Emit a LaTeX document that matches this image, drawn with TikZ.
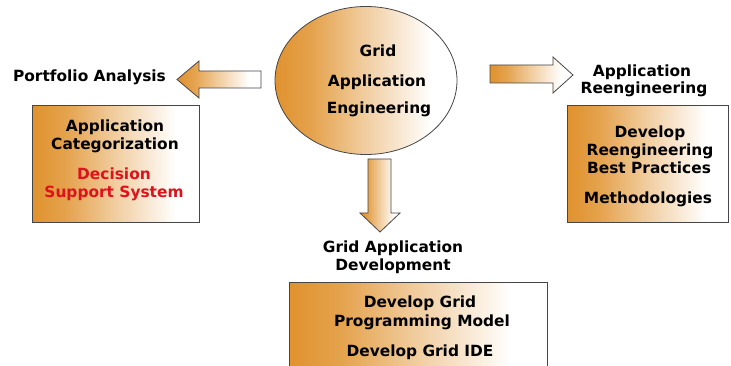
\documentclass[tikz,border=0pt]{standalone}
\usepackage{fontspec}
\setmainfont{DejaVu Sans}
\usetikzlibrary{shapes.geometric}
\definecolor{orng}{RGB}{224,146,46}
\definecolor{edge}{RGB}{70,70,70}
\definecolor{redtxt}{RGB}{222,18,28}
\pgfdeclarehorizontalshading{orfade}{100bp}{color(0bp)=(orng); color(25bp)=(orng); color(35bp)=(orng!85!white); color(50bp)=(orng!45!white); color(68bp)=(white); color(100bp)=(white)}
\begin{document}
\begin{tikzpicture}[x=1pt,y=-1pt,
  lbl/.style={font=\fontsize{15.4}{18}\selectfont\bfseries, anchor=base, inner sep=0pt},
  redlbl/.style={lbl, text=redtxt},
  blk/.style={draw=edge, line width=0.8pt, shade, shading=orfade},
  boxnode/.style={blk, rectangle, anchor=north west, inner sep=0pt}]
\clip (0,0) rectangle (731,366);
\fill[white] (0,0) rectangle (731,366);
% main shapes
\node[blk, ellipse, minimum width=182pt, minimum height=148pt, inner sep=0pt] (gae) at (366,80.5) {};
\node[boxnode, minimum width=167pt, minimum height=117pt] (lbox) at (32,105) {};
\node[boxnode, minimum width=161pt, minimum height=117pt] (rbox) at (567,105) {};
\node[boxnode, minimum width=258pt, minimum height=100pt] (bbox) at (289,282) {};
% block arrows
\draw[blk] (261,71) -- (199,71) -- (199,61) -- (177,79.5) -- (199,98) -- (199,88) -- (261,88) -- cycle;
\draw[blk] (490,65) -- (553,65) -- (553,57) -- (573,75) -- (553,93) -- (553,83) -- (490,83) -- cycle;
\draw[blk] (368,159) -- (391,159) -- (391,213) -- (400,213) -- (380,232) -- (360,213) -- (368,213) -- cycle;
% ellipse text
\node[lbl] (e1) at (378,57) {Grid};
\node[lbl] (e2) at (377,87) {Application};
\node[lbl] (e3) at (379,114) {Engineering};
% left
\node[lbl] (pa) at (89.5,82) {Portfolio Analysis};
\node[lbl] (la1) at (115,132) {Application};
\node[lbl] (la2) at (115,150) {Categorization};
\node[redlbl] (ld1) at (114,180) {Decision};
\node[redlbl] (ld2) at (114,198) {Support System};
% right
\node[lbl] (ra1) at (642,77) {Application};
\node[lbl] (ra2) at (644,94) {Reengineering};
\node[lbl] (rb1) at (650,138) {Develop};
\node[lbl] (rb2) at (650,156) {Reengineering};
\node[lbl] (rb3) at (649,174) {Best Practices};
\node[lbl] (rb4) at (648,204) {Methodologies};
% bottom
\node[lbl] (d1) at (393,252) {Grid Application};
\node[lbl] (d2) at (393,270) {Development};
\node[lbl] (bb1) at (420,307) {Develop Grid};
\node[lbl] (bb2) at (422,326) {Programming Model};
\node[lbl] (bb3) at (420,356) {Develop Grid IDE};
\end{tikzpicture}
\end{document}
